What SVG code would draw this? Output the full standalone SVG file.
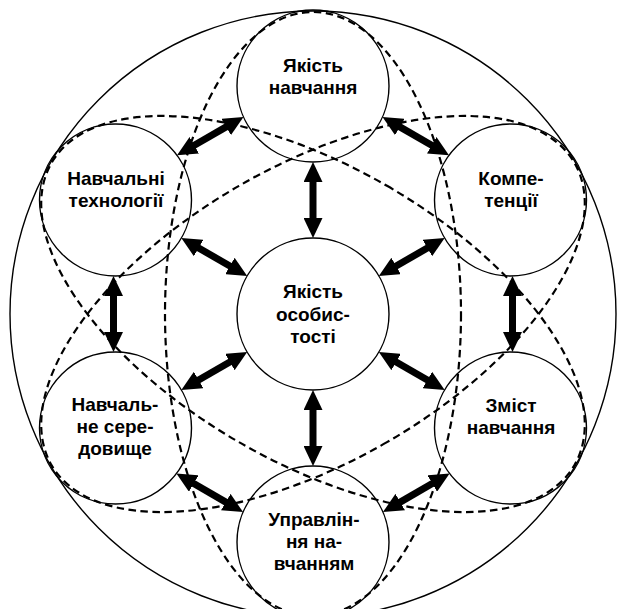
<svg xmlns="http://www.w3.org/2000/svg" width="617" height="609" viewBox="0 0 617 609">
<style>
.c{fill:none;stroke:#000;stroke-width:1.4}
.d{fill:none;stroke:#000;stroke-width:2.2;stroke-dasharray:7.5 4.5}
.a{stroke:#000;stroke-width:7;fill:none;marker-start:url(#ah);marker-end:url(#ah)}
text{font-family:"Liberation Sans",Arial,sans-serif;font-weight:bold;font-size:19px;text-anchor:middle;fill:#000}
</style>
<defs>
<marker id="ah" viewBox="0 0 20 19" refX="8" refY="9.5" markerWidth="20" markerHeight="19" markerUnits="userSpaceOnUse" orient="auto-start-reverse">
<path d="M0,0 L20,9.5 L0,19 z" fill="#000"/>
</marker>
</defs>
<rect width="617" height="609" fill="#fff"/>
<g id="outer"><circle class="c" cx="313" cy="314" r="303"/></g>
<g id="ellipses">
<ellipse class="d" cx="313" cy="314" rx="148" ry="302"/>
<ellipse class="d" cx="313" cy="314" rx="148" ry="302" transform="rotate(60 313 314)"/>
<ellipse class="d" cx="313" cy="314" rx="148" ry="302" transform="rotate(-60 313 314)"/>
</g>
<g id="connectors">
<line class="a" x1="313" y1="174" x2="313" y2="226"/>
<line class="a" x1="191.7" y1="244" x2="236.8" y2="270"/>
<line class="a" x1="434.3" y1="244" x2="389.2" y2="270"/>
<line class="a" x1="191.7" y1="384" x2="236.8" y2="358"/>
<line class="a" x1="434.3" y1="384" x2="389.2" y2="358"/>
<line class="a" x1="313" y1="402" x2="313" y2="454"/>
<line class="a" x1="187.4" y1="149.3" x2="233.1" y2="122.9"/>
<line class="a" x1="392.9" y1="122.9" x2="438.6" y2="149.3"/>
<line class="a" x1="113.5" y1="288" x2="113.5" y2="340"/>
<line class="a" x1="512.5" y1="288" x2="512.5" y2="340"/>
<line class="a" x1="186.8" y1="479.5" x2="232.7" y2="506.1"/>
<line class="a" x1="439.2" y1="479.5" x2="393.3" y2="506.1"/>
</g>
<g id="top"><circle class="c" cx="313" cy="86" r="76"/><text x="313" y="72">Якість</text><text x="313" y="94">навчання</text></g>
<g id="topleft"><circle class="c" cx="115.5" cy="200" r="76"/><text x="116" y="185">Навчальні</text><text x="116" y="207">технології</text></g>
<g id="topright"><circle class="c" cx="510.5" cy="200" r="76"/><text x="511" y="185">Компе-</text><text x="511" y="207">тенції</text></g>
<g id="center"><circle class="c" cx="313" cy="314" r="76"/><text x="313" y="298">Якість</text><text x="313" y="320.5">особис-</text><text x="313" y="343">тості</text></g>
<g id="bottomleft"><circle class="c" cx="115.5" cy="428" r="76"/><text x="115" y="411">Навчаль-</text><text x="115" y="433">не сере-</text><text x="115" y="455">довище</text></g>
<g id="bottomright"><circle class="c" cx="510.5" cy="428" r="76"/><text x="511" y="411.5">Зміст</text><text x="511" y="433.5">навчання</text></g>
<g id="bottom"><circle class="c" cx="313" cy="542" r="76"/><text x="314" y="526">Управлін-</text><text x="314" y="548">ня на-</text><text x="314" y="570">вчанням</text></g>
</svg>
